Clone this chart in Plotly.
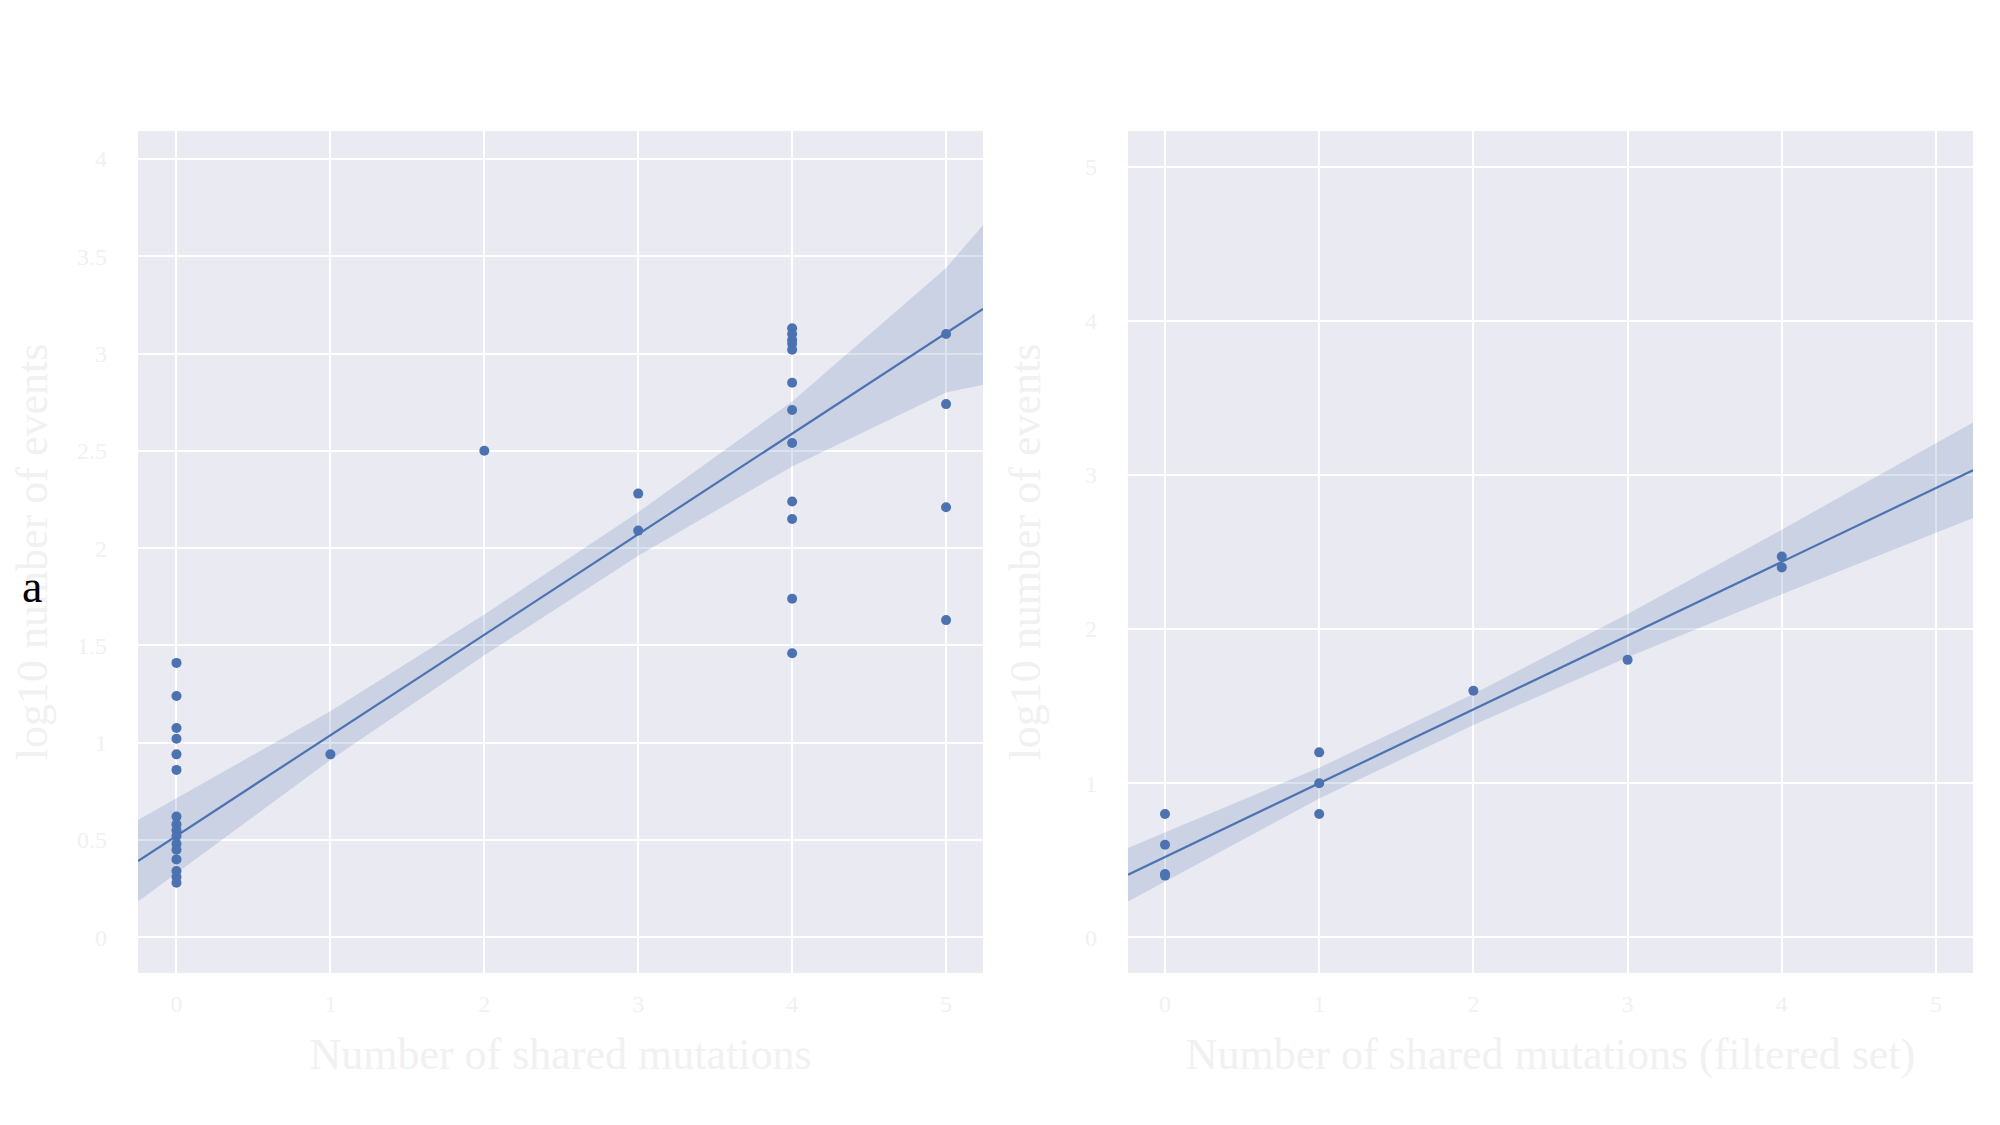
import plotly.graph_objects as go
from plotly.subplots import make_subplots

# ---- data ----
# left panel
left_x = [0]*16 + [1] + [2] + [3]*2 + [4]*12 + [5]*4
left_y = [1.41, 1.24, 1.075, 1.02, 0.94, 0.86, 0.62, 0.58, 0.55, 0.52, 0.48, 0.45, 0.40, 0.34, 0.31, 0.28,
          0.94,
          2.50,
          2.28, 2.09,
          3.13, 3.10, 3.07, 3.05, 3.02, 2.85, 2.71, 2.54, 2.24, 2.15, 1.74, 1.46,
          3.10, 2.74, 2.21, 1.63]
left_fit_x = [-0.25, 1, 2, 3, 4, 5, 5.24]
left_fit_y = [0.392, 1.038, 1.555, 2.072, 2.588, 3.105, 3.229]
left_fit_lo = [0.184, 0.911, 1.449, 1.961, 2.420, 2.800, 2.839]
left_fit_hi = [0.603, 1.161, 1.659, 2.184, 2.754, 3.440, 3.660]

# right panel
right_x = [0]*4 + [1]*3 + [2] + [3] + [4]*2
right_y = [0.80, 0.60, 0.41, 0.40, 1.20, 1.00, 0.80, 1.60, 1.80, 2.40, 2.47]
right_fit_x = [-0.24, 1, 2, 3, 4, 5, 5.24]
right_fit_y = [0.406, 1.0, 1.478, 1.957, 2.435, 2.914, 3.03]
right_fit_half = [0.174, 0.10, 0.10, 0.14, 0.21, 0.29, 0.31]

x_ticks = [0, 1, 2, 3, 4, 5]
left_y_ticks = [0, 0.5, 1, 1.5, 2, 2.5, 3, 3.5, 4]
right_y_ticks = [0, 1, 2, 3, 4, 5]

blue = 'rgb(76,114,176)'
band = 'rgba(76,114,176,0.2)'
faint = '#f1f1f3'
font_family = 'Liberation Serif'

fig = make_subplots(rows=1, cols=2)

def add_panel(col, xs, ys, fx, fy, lo, hi):
    # confidence band
    fig.add_trace(go.Scatter(x=fx + fx[::-1], y=hi + lo[::-1], fill='toself',
                             fillcolor=band, line=dict(width=0), mode='lines',
                             hoverinfo='skip', showlegend=False), row=1, col=col)
    fig.add_trace(go.Scatter(x=fx, y=fy, mode='lines', line=dict(color=blue, width=2.2),
                             showlegend=False), row=1, col=col)
    fig.add_trace(go.Scatter(x=xs, y=ys, mode='markers',
                             marker=dict(color=blue, size=10), showlegend=False), row=1, col=col)

add_panel(1, left_x, left_y, left_fit_x, left_fit_y, left_fit_lo, left_fit_hi)
right_lo = [a - h for a, h in zip(right_fit_y, right_fit_half)]
right_hi = [a + h for a, h in zip(right_fit_y, right_fit_half)]
add_panel(2, right_x, right_y, right_fit_x, right_fit_y, right_lo, right_hi)

axis_style = dict(showgrid=True, gridcolor='white', gridwidth=1.5, zeroline=False,
                  showline=False, ticks='', tickfont=dict(color=faint, size=24, family=font_family),
                  automargin=False)

fig.update_xaxes(ticklabelstandoff=14, **axis_style)
fig.update_yaxes(ticklabelstandoff=30, **axis_style)

title_font = dict(color=faint, size=44, family=font_family)

fig.update_xaxes(domain=[0.065, 0.4875], range=[-0.25, 5.24], tickvals=x_ticks,
                 title=dict(text='Number of shared mutations', font=title_font, standoff=22),
                 row=1, col=1)
fig.update_xaxes(domain=[0.560, 0.9825], range=[-0.24, 5.24], tickvals=x_ticks,
                 title=dict(text='Number of shared mutations (filtered set)', font=title_font, standoff=22),
                 row=1, col=2)
fig.update_yaxes(domain=[0.1422, 0.8907], range=[-0.184, 4.144], tickvals=left_y_ticks,
                 title=dict(text='log10 number of events', font=title_font, standoff=40),
                 row=1, col=1)
fig.update_yaxes(domain=[0.1422, 0.8907], range=[-0.232, 5.232], tickvals=right_y_ticks,
                 title=dict(text='log10 number of events', font=title_font, standoff=30),
                 row=1, col=2)

fig.add_annotation(text='a', xref='paper', yref='paper', x=12/2000, y=1 - 578/1125,
                   showarrow=False, font=dict(family=font_family, size=46, color='black'))

fig.update_layout(width=2000, height=1125, margin=dict(l=0, r=0, t=0, b=0),
                  plot_bgcolor='#EAEAF2', paper_bgcolor='white', showlegend=False)

fig.write_html("out.html")
